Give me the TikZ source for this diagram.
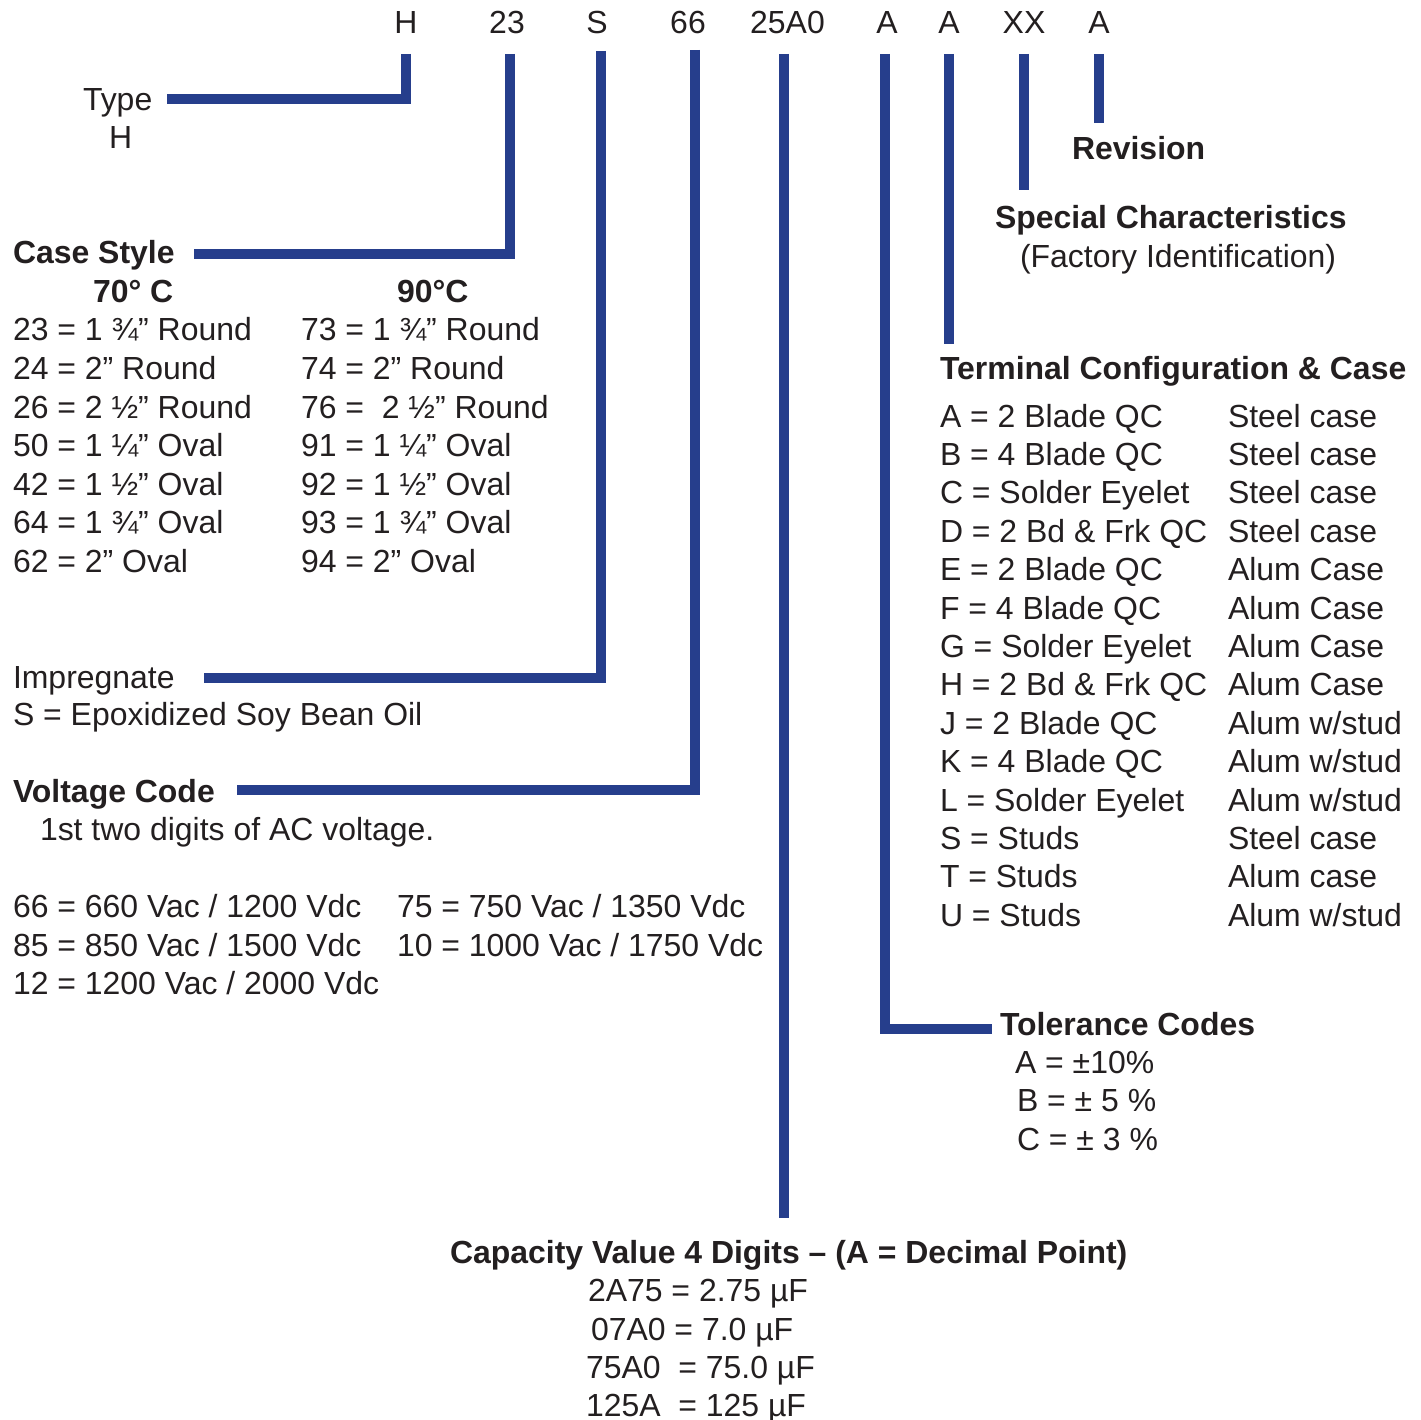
\documentclass[tikz,border=0pt]{standalone}
\usepackage{fontspec}
\setmainfont{Liberation Sans}
\definecolor{linkblue}{RGB}{38,62,140}
\definecolor{ink}{RGB}{35,31,32}
\begin{document}
\begin{tikzpicture}[x=1pt,y=-1pt,
  every node/.style={inner sep=0pt,outer sep=0pt,text=ink,font=\fontsize{31.95}{38}\selectfont},
  lbl/.style={anchor=base west},
  hd/.style={anchor=base},
  bld/.style={anchor=base west,font=\fontsize{31.95}{38}\selectfont\bfseries},
  link/.style={draw=linkblue,line width=10.5pt,line cap=butt,line join=miter}]
\useasboundingbox[fill=white] (0,0) rectangle (1421,1420);

% header code letters
\node[hd] (cH)  at (406,34)  {H};
\node[hd] (c23) at (507,34)  {23};
\node[hd] (cS)  at (597,34)  {S};
\node[hd] (c66) at (688,34)  {66};
\node[hd] (cCap) at (787.5,34) {25A0};
\node[hd] (cTol) at (887,34)  {A};
\node[hd] (cTer) at (949,34)  {A};
\node[hd] (cXX) at (1024,34) {XX};
\node[hd] (cRev) at (1099,34) {A};

% Type
\node[lbl] (type)  at (83,111)  {Type};
\node[lbl] (typeH) at (109,149) {H};

% Case style
\node[bld] (case) at (13,264) {Case Style};
\node[bld] (c70)  at (93,303) {70° C};
\node[bld] (c90)  at (397,303) {90°C};
\foreach \t [count=\i from 0] in {23 = 1 ¾” Round,24 = 2” Round,26 = 2 ½” Round,50 = 1 ¼” Oval,42 = 1 ½” Oval,64 = 1 ¾” Oval,62 = 2” Oval}
  \node[lbl] (csl\i) at (13,341+38.5*\i) {\t};
\foreach \t [count=\i from 0] in {73 = 1 ¾” Round,74 = 2” Round,76 = \ 2 ½” Round,91 = 1 ¼” Oval,92 = 1 ½” Oval,93 = 1 ¾” Oval,94 = 2” Oval}
  \node[lbl] (csr\i) at (301,341+38.5*\i) {\t};

% Impregnate
\node[lbl] (imp)  at (13,688) {Impregnate};
\node[lbl] (impS) at (13,725) {S = Epoxidized Soy Bean Oil};

% Voltage
\node[bld] (volt) at (13,802) {Voltage Code};
\node[lbl] (volt1) at (40,840) {1st two digits of AC voltage.};
\node[lbl] (v66) at (13,917) {66 = 660 Vac / 1200 Vdc};
\node[lbl] (v75) at (397,917) {75 = 750 Vac / 1350 Vdc};
\node[lbl] (v85) at (13,956) {85 = 850 Vac / 1500 Vdc};
\node[lbl] (v10) at (397,956) {10 = 1000 Vac / 1750 Vdc};
\node[lbl] (v12) at (13,994) {12 = 1200 Vac / 2000 Vdc};

% Revision, special
\node[bld] (rev) at (1072,160) {Revision};
\node[bld] (spec) at (995,229) {Special Characteristics};
\node[lbl] (spec2) at (1020,268) {(Factory Identification)};

% Terminal
\node[bld] (term) at (940,379) {Terminal Configuration \& Case};
\foreach \t [count=\i from 0] in {A = 2 Blade QC,B = 4 Blade QC,C = Solder Eyelet,D = 2 Bd \& Frk QC,E = 2 Blade QC,F = 4 Blade QC,G = Solder Eyelet,H = 2 Bd \& Frk QC,J = 2 Blade QC,K = 4 Blade QC,L = Solder Eyelet,S = Studs,T = Studs,U = Studs}
  \node[lbl] (tl\i) at (940,427+38.4*\i) {\t};
\foreach \t [count=\i from 0] in {Steel case,Steel case,Steel case,Steel case,Alum Case,Alum Case,Alum Case,Alum Case,Alum w/stud,Alum w/stud,Alum w/stud,Steel case,Alum case,Alum w/stud}
  \node[lbl] (tr\i) at (1228,427+38.4*\i) {\t};

% Tolerance
\node[bld] (tol) at (1000,1035) {Tolerance Codes};
\node[lbl] (tolA) at (1015,1073) {A = ±10\%};
\node[lbl] (tolB) at (1017,1111) {B = ± 5 \%};
\node[lbl] (tolC) at (1017,1150) {C = ± 3 \%};

% Capacity
\node[bld] (cap) at (450,1263) {Capacity Value 4 Digits – (A = Decimal Point)};
\node[lbl] (cap1) at (588,1301) {2A75 = 2.75 µF};
\node[lbl] (cap2) at (591,1340) {07A0 = 7.0 µF};
\node[lbl] (cap3) at (586,1378) {75A0 \ = 75.0 µF};
\node[lbl] (cap4) at (586,1416) {125A \ = 125 µF};

% connector end points
\coordinate (tH)   at (406,54);  \coordinate (eH)   at (167,99);
\coordinate (t23)  at (510,54);  \coordinate (e23)  at (194,254);
\coordinate (tS)   at (601,51);  \coordinate (eS)   at (204,678);
\coordinate (t66)  at (695,50);  \coordinate (e66)  at (237,790);
\coordinate (tCap) at (784,54);  \coordinate (eCap) at (784,1218);
\coordinate (tTol) at (885,54);  \coordinate (eTol) at (992,1029);
\coordinate (tTer) at (949,54);  \coordinate (eTer) at (949,344);
\coordinate (tXX)  at (1024,54); \coordinate (eXX)  at (1024,190);
\coordinate (tRev) at (1099,54); \coordinate (eRev) at (1099,123);

\draw[link] (tH) |- (eH);
\draw[link] (t23) |- (e23);
\draw[link] (tS) |- (eS);
\draw[link] (t66) |- (e66);
\draw[link] (tCap) -- (eCap);
\draw[link] (tTol) |- (eTol);
\draw[link] (tTer) -- (eTer);
\draw[link] (tXX) -- (eXX);
\draw[link] (tRev) -- (eRev);
\end{tikzpicture}
\end{document}
